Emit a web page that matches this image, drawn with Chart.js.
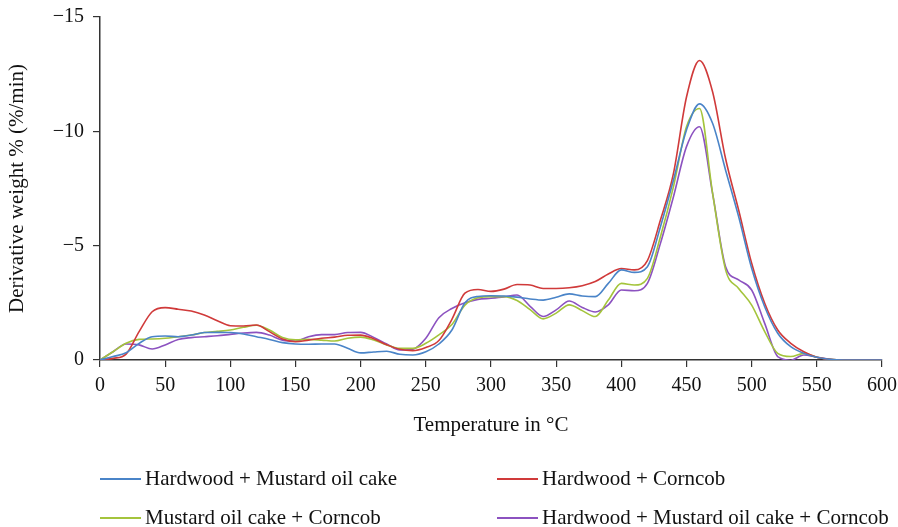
<!DOCTYPE html>
<html>
<head>
<meta charset="utf-8">
<script src="https://cdn.jsdelivr.net/npm/chart.js@4/dist/chart.umd.min.js"></script>
<style>
  html, body { margin: 0; padding: 0; background: #fff; }
  #wrap { position: relative; width: 898px; height: 527px; }
  #legend { position: absolute; left: 100px; top: 466px; width: 798px;
            font-family: "Liberation Serif", "DejaVu Serif", serif; font-size: 21px; color: #111; }
  .item { position: absolute; display: flex; align-items: center; white-space: nowrap; }
  .item span.sw { display: inline-block; width: 41px; height: 2px; margin-right: 4px; }
</style>
</head>
<body>
<div id="wrap">
  <canvas id="dtgChart" width="898" height="527"></canvas>
  <div id="legend"></div>
</div>
<script>
// temperature points (°C)
const temps = [0, 10, 20, 30, 40, 50, 60, 70, 80, 90, 100, 110, 120, 130, 140, 150, 160, 170, 180, 190,
  200, 210, 220, 230, 240, 250, 260, 270, 280, 290, 300, 310, 320, 330, 340, 350, 360, 370, 380, 390,
  400, 410, 420, 430, 440, 450, 460, 470, 480, 490, 500, 510, 520, 530, 540, 550, 560, 570, 580, 590, 600];

const seriesNames = ['Hardwood + Mustard oil cake', 'Hardwood + Corncob',
  'Mustard oil cake + Corncob', 'Hardwood + Mustard oil cake + Corncob'];

// derivative weight % (%/min)
const hwMustard = [0, -0.15, -0.32, -0.73, -1.02, -1.05, -1.02, -1.09, -1.2, -1.21, -1.2, -1.14, -1.02, -0.9, -0.76, -0.7, -0.69, -0.7, -0.7, -0.51,
  -0.31, -0.35, -0.38, -0.25, -0.22, -0.36, -0.7, -1.31, -2.5, -2.78, -2.81, -2.8, -2.75, -2.67, -2.62, -2.74, -2.89, -2.8, -2.77, -3.35,
  -3.94, -3.83, -4.08, -5.83, -7.87, -10.06, -11.2, -10.35, -8.3, -6.27, -4.01, -2.33, -1.17, -0.58, -0.29, -0.12, -0.03, 0, 0, 0, 0];

const hwCorncob = [0, -0.07, -0.26, -1.24, -2.11, -2.29, -2.22, -2.14, -1.97, -1.72, -1.5, -1.49, -1.53, -1.24, -0.92, -0.8, -0.87, -0.95, -1.0, -1.08,
  -1.09, -0.93, -0.67, -0.47, -0.41, -0.55, -0.85, -1.78, -2.92, -3.08, -3.0, -3.1, -3.3, -3.28, -3.13, -3.13, -3.16, -3.25, -3.43, -3.76,
  -4.0, -3.94, -4.35, -6.12, -8.16, -11.5, -13.1, -11.73, -8.8, -6.56, -4.23, -2.48, -1.31, -0.73, -0.36, -0.12, -0.03, 0, 0, 0, 0];

const mustardCorncob = [0, -0.36, -0.73, -0.9, -0.92, -0.95, -1.02, -1.09, -1.2, -1.25, -1.31, -1.43, -1.52, -1.31, -0.98, -0.88, -0.9, -0.87, -0.83, -0.95,
  -1.0, -0.87, -0.66, -0.51, -0.51, -0.73, -1.1, -1.55, -2.4, -2.72, -2.77, -2.77, -2.6, -2.2, -1.8, -2.05, -2.41, -2.16, -1.9, -2.62,
  -3.35, -3.28, -3.57, -5.39, -7.58, -10.2, -11.0, -7.3, -3.94, -3.13, -2.4, -1.24, -0.29, -0.15, -0.29, -0.12, -0.03, 0, 0, 0, 0];

const allThree = [0, -0.36, -0.7, -0.66, -0.48, -0.66, -0.9, -0.98, -1.02, -1.06, -1.12, -1.18, -1.21, -1.09, -0.87, -0.83, -1.02, -1.11, -1.11, -1.2,
  -1.21, -0.99, -0.7, -0.44, -0.47, -0.95, -1.85, -2.25, -2.5, -2.65, -2.7, -2.76, -2.84, -2.35, -1.9, -2.19, -2.58, -2.3, -2.1, -2.41,
  -3.06, -3.03, -3.35, -5.1, -7.14, -9.33, -10.2, -7.29, -4.08, -3.5, -3.06, -1.6, -0.15, 0.02, -0.22, -0.12, -0.03, 0.03, 0, 0, 0];

const yTicks = [0, -5, -10, -15];
const colors = ['#4a84c8', '#d03a3a', '#a4c43c', '#8c52c0'];

const seriesData = [hwMustard, hwCorncob, mustardCorncob, allThree];

const datasets = seriesData.map((vals, i) => ({
  label: seriesNames[i],
  data: vals.map((v, j) => ({ x: temps[j], y: v })),
  borderColor: colors[i],
  backgroundColor: colors[i],
  borderWidth: 1.6,
  pointRadius: 0,
  cubicInterpolationMode: 'monotone',
  fill: false
}));

const serif = '"Liberation Serif", "DejaVu Serif", serif';
const axisColor = '#333';

const ctx = document.getElementById('dtgChart').getContext('2d');
new Chart(ctx, {
  type: 'line',
  data: { datasets: datasets },
  options: {
    responsive: false,
    animation: false,
    layout: { padding: { top: 17, right: 16, bottom: 89, left: 0 } },
    plugins: { legend: { display: false }, tooltip: { enabled: false } },
    scales: {
      x: {
        type: 'linear',
        min: 0, max: 600,
        ticks: { stepSize: 50, color: '#111', font: { family: serif, size: 20 }, padding: 7 },
        grid: { display: true, drawOnChartArea: false, drawTicks: true, tickLength: 7, color: axisColor, lineWidth: 1.2 },
        border: { color: axisColor, width: 1.5 },
        title: { display: true, text: 'Temperature in °C', color: '#111', font: { family: serif, size: 21 }, padding: { top: 0, bottom: 0 } },
        afterFit: (s) => { s.height = 78; s.paddingLeft = 0; s.paddingRight = 0; }
      },
      y: {
        type: 'linear',
        min: -15, max: 0,
        reverse: true,
        afterBuildTicks: (s) => { s.ticks = yTicks.map(v => ({ value: v })); },
        ticks: {
          color: '#111', font: { family: serif, size: 20 }, padding: 9,
          callback: (v) => String(v).replace('-', '\u2212')
        },
        grid: { display: true, drawOnChartArea: false, drawTicks: true, tickLength: 7, color: axisColor, lineWidth: 1.2 },
        border: { color: axisColor, width: 1.5 },
        title: { display: true, text: 'Derivative weight % (%/min)', color: '#111', font: { family: serif, size: 21 }, padding: { top: 5, bottom: 2 } },
        afterFit: (s) => { s.width = 100; s.paddingTop = 0; s.paddingBottom = 0; }
      }
    }
  }
});

// two-column legend below the plot
const legend = document.getElementById('legend');
const slots = [[0, 0], [397, 0], [0, 39], [397, 39]];
seriesNames.forEach((name, i) => {
  const el = document.createElement('div');
  el.className = 'item';
  el.style.left = slots[i][0] + 'px';
  el.style.top = slots[i][1] + 'px';
  el.innerHTML = '<span class="sw" style="background:' + colors[i] + '"></span>' + name;
  legend.appendChild(el);
});
</script>
</body>
</html>
